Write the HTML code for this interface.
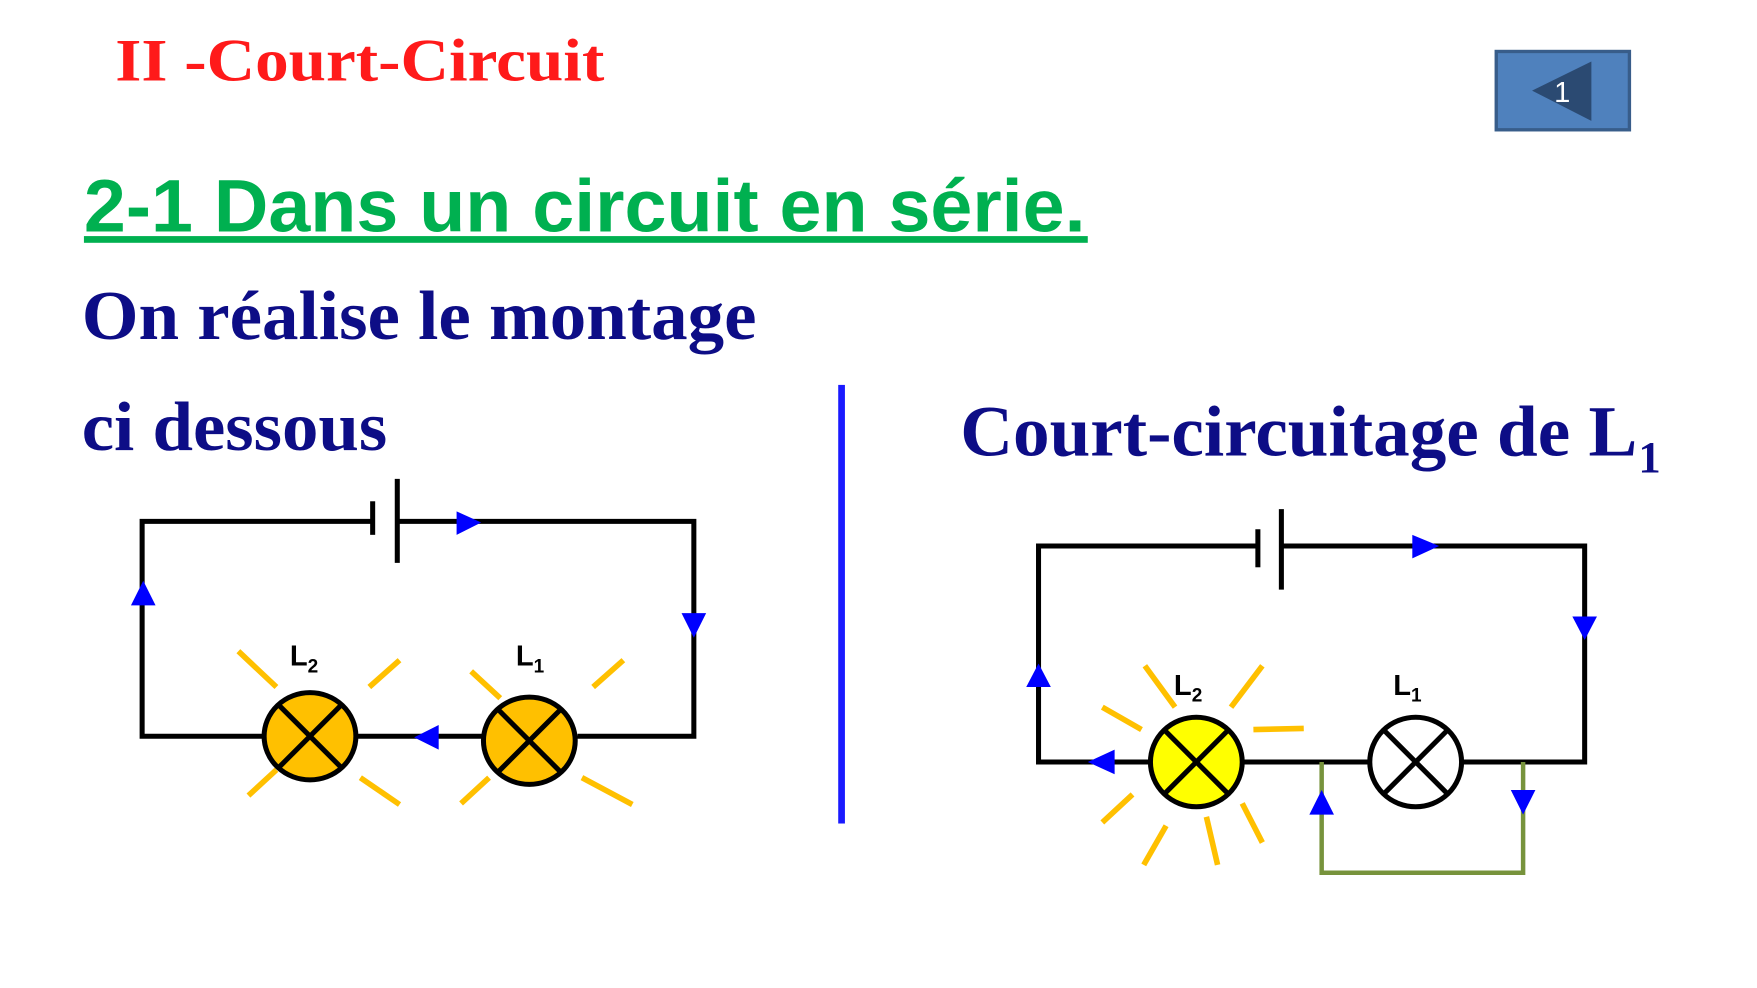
<!DOCTYPE html>
<html><head><meta charset="utf-8"><style>html,body{margin:0;padding:0;background:#fff;}svg{display:block}</style></head>
<body>
<svg width="1757" height="988" viewBox="0 0 1570 883" preserveAspectRatio="none" xmlns="http://www.w3.org/2000/svg">
<rect width="1570" height="883" fill="#fff"/>
<text x="103" y="72" font-family="Liberation Serif" font-weight="bold" font-size="54" fill="#ff1a1a" textLength="437" lengthAdjust="spacingAndGlyphs">II  -Court-Circuit</text>
<rect x="1337" y="46" width="119" height="70" fill="#4f81bd" stroke="#385d8a" stroke-width="3"/>
<polygon points="1369,81 1422,55 1422,108" fill="#2b4a72"/>
<text x="1396" y="91" font-family="Liberation Sans" font-size="26" fill="#fff" text-anchor="middle">1</text>
<text x="75" y="207" font-family="Liberation Sans" font-weight="bold" font-size="66" fill="#00b050" textLength="895" lengthAdjust="spacingAndGlyphs">2-1 Dans un circuit en série.</text>
<rect x="75" y="211" width="897" height="6" fill="#00b050"/>
<text x="73" y="303" font-family="Liberation Serif" font-weight="bold" font-size="62" fill="#0d0d86" textLength="603" lengthAdjust="spacingAndGlyphs">On réalise le montage</text>
<text x="73" y="402" font-family="Liberation Serif" font-weight="bold" font-size="62" fill="#0d0d86" textLength="273" lengthAdjust="spacingAndGlyphs">ci dessous</text>
<text x="858" y="407" font-family="Liberation Serif" font-weight="bold" font-size="64" fill="#0d0d86" textLength="605" lengthAdjust="spacingAndGlyphs">Court-circuitage de L</text>
<text x="1464" y="422" font-family="Liberation Serif" font-weight="bold" font-size="40" fill="#0d0d86">1</text>
<rect x="749" y="344" width="6" height="392" fill="#1a1aff"/>
<g stroke="#000" stroke-width="4.5" fill="none">
<polyline points="333,466 127,466 127,658 236,658"/>
<polyline points="355,466 620,466 620,658 516,658"/>
<line x1="319" y1="658" x2="431" y2="658"/>
<line x1="333" y1="448" x2="333" y2="478"/>
<line x1="355" y1="428" x2="355" y2="503"/>
<polyline points="1124,488 928,488 928,681 1028,681"/>
<polyline points="1145,488 1416,488 1416,681 1306,681"/>
<line x1="1110" y1="681" x2="1224" y2="681"/>
<line x1="1124" y1="473" x2="1124" y2="507"/>
<line x1="1145" y1="455" x2="1145" y2="527"/>
</g>
<polyline points="1181,681 1181,780 1361,780 1361,681" stroke="#77933c" stroke-width="4" fill="none"/>
<g stroke="#ffc000" stroke-width="5">
<line x1="213" y1="582" x2="247" y2="614"/><line x1="330" y1="614" x2="357" y2="590"/>
<line x1="222" y1="711" x2="247" y2="688"/><line x1="322" y1="695" x2="357" y2="719"/>
<line x1="421" y1="600" x2="447" y2="624"/><line x1="530" y1="614" x2="557" y2="590"/>
<line x1="412" y1="718" x2="437" y2="695"/><line x1="520" y1="695" x2="565" y2="719"/>
<line x1="1023" y1="595" x2="1050" y2="632"/><line x1="1100" y1="632" x2="1128" y2="595"/>
<line x1="985" y1="632" x2="1020" y2="652"/><line x1="1120" y1="652" x2="1165" y2="651"/>
<line x1="985" y1="735" x2="1012" y2="710"/><line x1="1022" y1="773" x2="1042" y2="738"/>
<line x1="1078" y1="730" x2="1088" y2="773"/><line x1="1110" y1="718" x2="1128" y2="753"/>
</g>
<g stroke="#000" stroke-width="4.5">
<ellipse cx="277" cy="658" rx="41" ry="39" fill="#ffc000"/>
<line x1="249" y1="630" x2="305" y2="686"/><line x1="305" y1="630" x2="249" y2="686"/>
<ellipse cx="473" cy="662" rx="41" ry="39" fill="#ffc000"/>
<line x1="445" y1="634" x2="501" y2="690"/><line x1="501" y1="634" x2="445" y2="690"/>
<ellipse cx="1069" cy="681" rx="41" ry="40" fill="#ffff00"/>
<line x1="1041" y1="653" x2="1097" y2="709"/><line x1="1097" y1="653" x2="1041" y2="709"/>
<ellipse cx="1265" cy="681" rx="41" ry="40" fill="#fff"/>
<line x1="1237" y1="653" x2="1293" y2="709"/><line x1="1293" y1="653" x2="1237" y2="709"/>
</g>
<g fill="#0000ff">
<polygon points="408,457 408,478 430,467"/>
<polygon points="609,548 631,548 620,570"/>
<polygon points="392,648 392,670 370,659"/>
<polygon points="117,541 139,541 128,519"/>
<polygon points="1262,478 1262,499 1286,488"/>
<polygon points="1405,551 1427,551 1416,572"/>
<polygon points="917,614 939,614 928,593"/>
<polygon points="996,670 996,692 972,681"/>
<polygon points="1170,728 1192,728 1181,706"/>
<polygon points="1350,706 1372,706 1361,728"/>
</g>
<g font-family="Liberation Sans" font-weight="bold" fill="#000">
<text x="259" y="595" font-size="26">L<tspan font-size="17" dy="6">2</tspan></text>
<text x="461" y="595" font-size="26">L<tspan font-size="17" dy="6">1</tspan></text>
<text x="1049" y="621" font-size="26">L<tspan font-size="17" dy="6">2</tspan></text>
<text x="1245" y="621" font-size="26">L<tspan font-size="17" dy="6">1</tspan></text>
</g>
</svg>
</body></html>
